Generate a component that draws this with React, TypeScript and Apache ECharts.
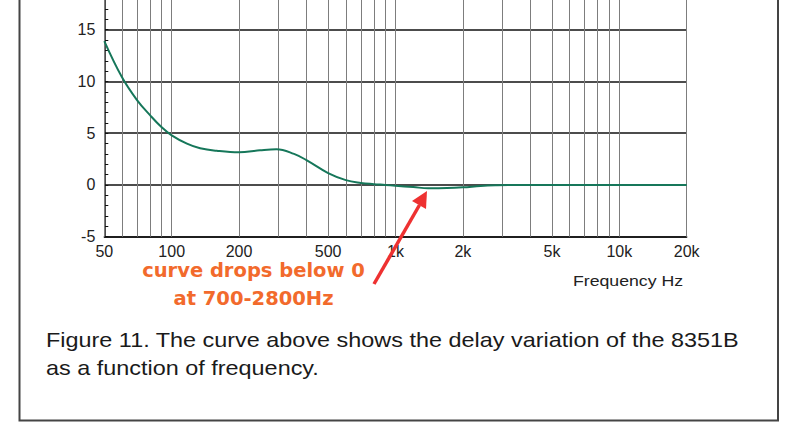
import React, { useEffect, useRef } from "react";
import * as echarts from "echarts";

// Frequency (Hz) and delay variation
const freqHz = [50, 60, 70, 80, 90, 100, 117, 134, 159, 200, 248, 294, 352, 400, 500, 600, 700, 800, 900, 1000, 1200, 1400, 1700, 2000, 2400, 2800, 3200, 4000, 5000, 7000, 10000, 14000, 20000];
const delayVals = [13.9, 10.4, 8.2, 6.75, 5.6, 4.8, 4.0, 3.55, 3.3, 3.15, 3.35, 3.45, 3.0, 2.4, 1.15, 0.47, 0.2, 0.08, 0.0, -0.08, -0.2, -0.32, -0.3, -0.23, -0.1, -0.03, 0, 0, 0, 0, 0, 0, 0];

// Vertical grid frequencies and labelled ticks
const gridFreqs = [50, 60, 70, 80, 90, 100, 200, 300, 400, 500, 600, 700, 800, 900, 1000, 2000, 3000, 4000, 5000, 6000, 7000, 8000, 9000, 10000, 20000];
const tickFreqs = [50, 100, 200, 500, 1000, 2000, 5000, 10000, 20000];
const tickLabels = ["50", "100", "200", "500", "1k", "2k", "5k", "10k", "20k"];

const yTicks = [-5, 0, 5, 10, 15];

const xAxisTitle = "Frequency Hz";
const annotationLines = ["curve drops below 0", "at 700-2800Hz"];
const captionLines = [
  "Figure 11. The curve above shows the delay variation of the 8351B",
  "as a function of frequency.",
];

const FONT = "'Liberation Sans', Arial, Helvetica, sans-serif";
const OFF = 22; // the chart div starts 22px above the page (top of the plot is cropped)

export default function App() {
  const ref = useRef<HTMLDivElement>(null);

  useEffect(() => {
    if (!ref.current) return;
    const chart = echarts.init(ref.current, undefined, { renderer: "svg" });

    const markData = gridFreqs.map((f) => {
      const idx = tickFreqs.indexOf(f);
      if (idx >= 0) {
        return {
          xAxis: f,
          label: {
            show: true,
            position: "start",
            formatter: tickLabels[idx],
            distance: 7,
            color: "#222",
            fontSize: 16,
            fontFamily: FONT,
          },
        };
      }
      return { xAxis: f, label: { show: false } };
    });

    const textStyle = (
      text: string,
      font: string,
      fill: string,
      align: string,
    ) => ({
      text,
      font,
      fill,
      align,
      textAlign: align,
      verticalAlign: "middle",
      textVerticalAlign: "middle",
    });

    const option: any = {
      animation: false,
      grid: { left: 104.3, right: 110.3, top: 0, bottom: 189.3, containLabel: false },
      xAxis: {
        type: "log",
        logBase: 10,
        min: 50,
        max: 20000,
        axisLine: { show: true, onZero: false, lineStyle: { color: "#111", width: 1.5 } },
        axisTick: { show: false },
        axisLabel: { show: false },
        splitLine: { show: false },
        minorTick: { show: false },
        minorSplitLine: { show: false },
      },
      yAxis: {
        type: "value",
        min: -5,
        max: 20,
        interval: 5,
        axisLine: { show: true, onZero: false, lineStyle: { color: "#111", width: 1.5 } },
        axisTick: { show: true, inside: true, length: 4, lineStyle: { color: "#111", width: 1 } },
        minorTick: { show: true, splitNumber: 5, length: 4, lineStyle: { color: "#111", width: 1 } },
        axisLabel: {
          margin: 9,
          color: "#222",
          fontSize: 16,
          fontFamily: FONT,
          formatter: (v: number) => (yTicks.indexOf(v) >= 0 ? String(v) : ""),
        },
        splitLine: { show: true, lineStyle: { color: "#111", width: 1.5 } },
      },
      series: [
        {
          type: "line",
          data: [],
          z: 1,
          silent: true,
          markLine: {
            silent: true,
            symbol: ["none", "none"],
            animation: false,
            emphasis: { disabled: true },
            lineStyle: { color: "#7d7d7d", width: 1, type: "solid" },
            label: { show: false },
            data: markData,
          },
        },
        {
          type: "line",
          z: 5,
          data: freqHz.map((f, i) => [f, delayVals[i]]),
          smooth: 0.4,
          showSymbol: false,
          symbol: "none",
          lineStyle: { color: "#16775a", width: 2 },
          silent: true,
        },
      ],
      graphic: [
        {
          type: "rect",
          z: 100,
          shape: { x: 19.5, y: 0, width: 758.5, height: 420.5 + OFF },
          style: { fill: "none", stroke: "#444", lineWidth: 2 },
        },
        {
          type: "text",
          z: 100,
          x: 253.5,
          y: 270 + OFF,
          style: textStyle(annotationLines[0], "bold 19.5px 'DejaVu Sans', sans-serif", "#f26a2c", "center"),
        },
        {
          type: "text",
          z: 100,
          x: 253.5,
          y: 298.5 + OFF,
          style: textStyle(annotationLines[1], "bold 19.5px 'DejaVu Sans', sans-serif", "#f26a2c", "center"),
        },
        {
          type: "line",
          z: 101,
          shape: { x1: 374, y1: 284 + OFF, x2: 419.5, y2: 205 + OFF },
          style: { stroke: "#ee3131", lineWidth: 3.5 },
        },
        {
          type: "polygon",
          z: 101,
          shape: { points: [[427, 191 + OFF], [426, 209 + OFF], [412, 201 + OFF]] },
          style: { fill: "#ee3131" },
        },
        {
          type: "text",
          z: 100,
          x: 573,
          y: 280.5 + OFF,
          scaleX: 1.18,
          style: textStyle(xAxisTitle, "15px " + FONT, "#222", "left"),
        },
        {
          type: "text",
          z: 100,
          x: 46,
          y: 340 + OFF,
          scaleX: 1.115,
          style: textStyle(captionLines[0], "21px " + FONT, "#1a1a1a", "left"),
        },
        {
          type: "text",
          z: 100,
          x: 46,
          y: 367.5 + OFF,
          scaleX: 1.115,
          style: textStyle(captionLines[1], "21px " + FONT, "#1a1a1a", "left"),
        },
      ],
    };

    chart.setOption(option);
    return () => chart.dispose();
  }, []);

  return (
    <div
      ref={ref}
      style={{ position: "absolute", left: 0, top: -OFF, width: 797, height: 426 + OFF, background: "#fff" }}
    />
  );
}
